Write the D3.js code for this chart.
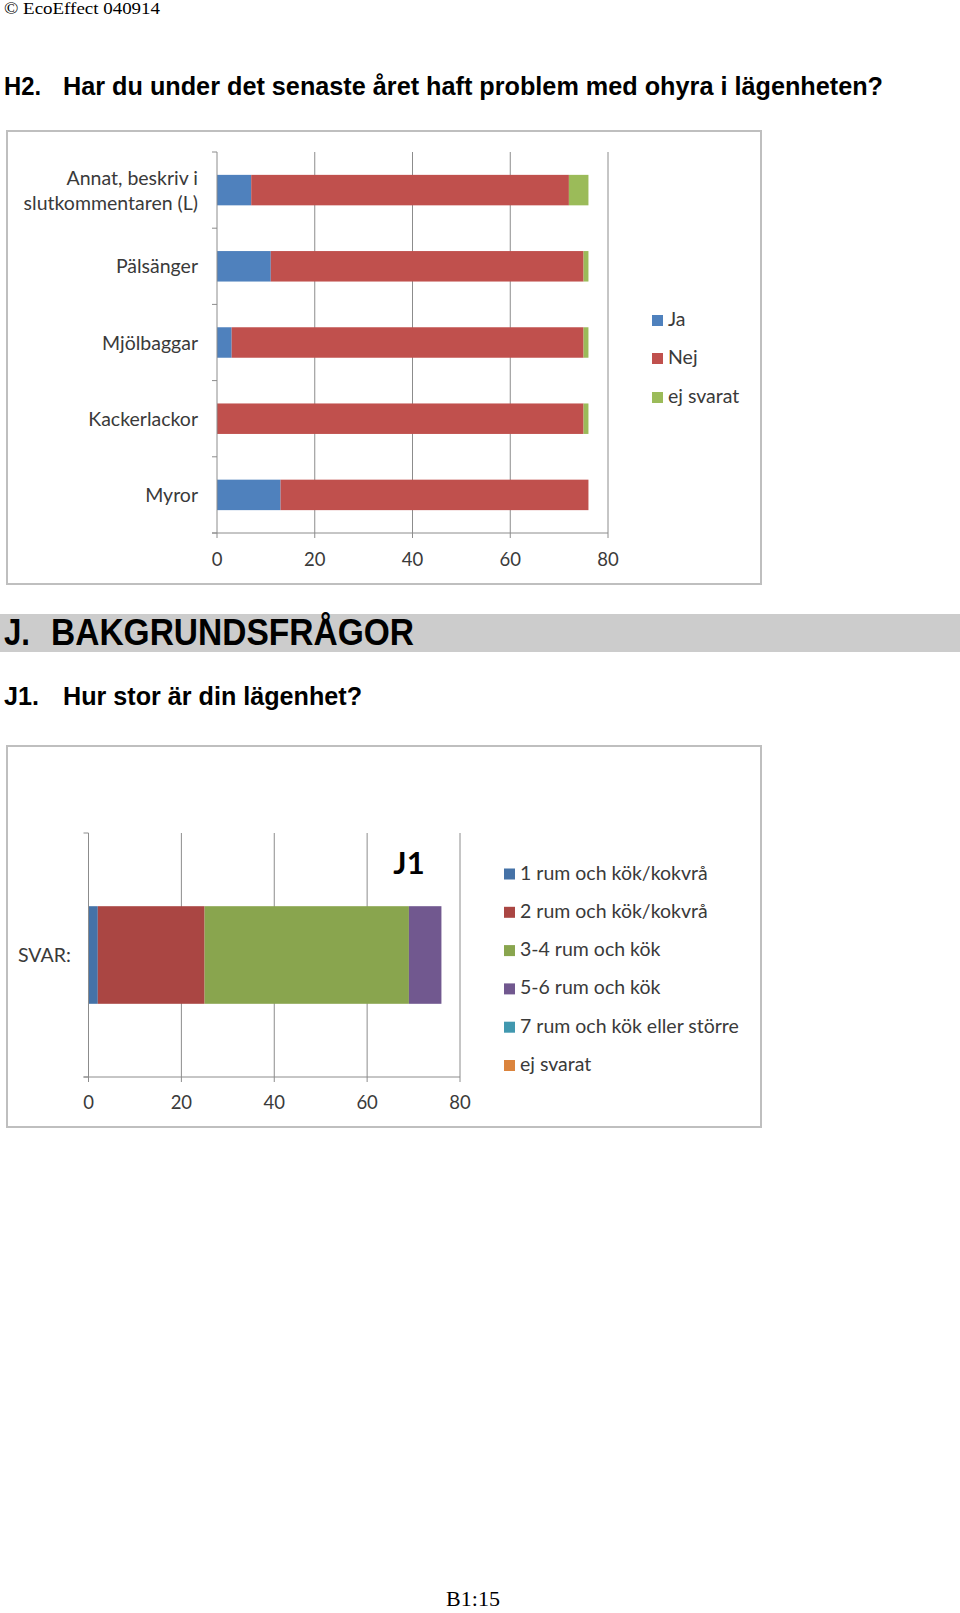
<!DOCTYPE html>
<html><head><meta charset="utf-8">
<script src="https://cdn.jsdelivr.net/npm/d3@7"></script>
<style>
html,body{margin:0;padding:0;background:#fff;}
svg{display:block;}
</style></head>
<body>
<script>
// ---------- DATA ----------
const h2Categories = ["Annat, beskriv i|slutkommentaren (L)", "Pälsänger", "Mjölbaggar", "Kackerlackor", "Myror"];
const h2Series = ["Ja", "Nej", "ej svarat"];
const h2Ja  = [7, 11, 3, 0, 13];
const h2Nej = [65, 64, 72, 75, 63];
const h2Ej  = [4, 1, 1, 1, 0];
const h2Colors = ["#4f81bd", "#c0504d", "#9bbb59"];

const j1Categories = ["SVAR:"];
const j1Series = ["1 rum och kök/kokvrå", "2 rum och kök/kokvrå", "3-4 rum och kök", "5-6 rum och kök", "7 rum och kök eller större", "ej svarat"];
const j1Values = [2, 23, 44, 7, 0, 0];
const j1Colors = ["#4572a7", "#aa4643", "#89a54e", "#71588f", "#4198af", "#db843d"];

const xTicks = [0, 20, 40, 60, 80];

// ---------- PAGE ----------
const W = 960, H = 1613;
const svg = d3.select("body").append("svg").attr("width", W).attr("height", H);
svg.append("rect").attr("width", W).attr("height", H).attr("fill", "#fff");

const chartFont = "Lato, 'Open Sans', sans-serif";
const labelSize = 19.5;
const gridColor = "#8c8c8c";
const textColor = "#3a3a3a";

function fitText(sel, len) { sel.attr("textLength", len).attr("lengthAdjust", "spacingAndGlyphs"); }

// Header
svg.append("text").attr("x", 4).attr("y", 14).attr("font-family", "'Liberation Serif', serif")
  .attr("font-size", 17).text("© EcoEffect 040914").call(fitText, 156);

svg.append("text").attr("x", 4).attr("y", 95).attr("font-family", "'Liberation Sans', Arial, sans-serif")
  .attr("font-weight", "bold").attr("font-size", 25).text("H2.").call(fitText, 37);
svg.append("text").attr("x", 63).attr("y", 95).attr("font-family", "'Liberation Sans', Arial, sans-serif")
  .attr("font-weight", "bold").attr("font-size", 25)
  .text("Har du under det senaste året haft problem med ohyra i lägenheten?").call(fitText, 820);

// Gray section band
svg.append("rect").attr("x", 0).attr("y", 614).attr("width", 960).attr("height", 38).attr("fill", "#cccccc");
svg.append("text").attr("x", 4).attr("y", 645).attr("font-family", "'Liberation Sans', Arial, sans-serif")
  .attr("font-weight", "bold").attr("font-size", 36).text("J.").call(fitText, 26);
svg.append("text").attr("x", 51).attr("y", 645).attr("font-family", "'Liberation Sans', Arial, sans-serif")
  .attr("font-weight", "bold").attr("font-size", 36).text("BAKGRUNDSFRÅGOR").call(fitText, 363);

svg.append("text").attr("x", 4).attr("y", 705).attr("font-family", "'Liberation Sans', Arial, sans-serif")
  .attr("font-weight", "bold").attr("font-size", 25).text("J1.").call(fitText, 35);
svg.append("text").attr("x", 63).attr("y", 705).attr("font-family", "'Liberation Sans', Arial, sans-serif")
  .attr("font-weight", "bold").attr("font-size", 25).text("Hur stor är din lägenhet?").call(fitText, 299);

// Footer
svg.append("text").attr("x", 473).attr("y", 1606).attr("text-anchor", "middle")
  .attr("font-family", "'Liberation Serif', serif").attr("font-size", 22).text("B1:15");

// ---------- CHART 1 ----------
(function () {
  const g = svg.append("g");
  g.append("rect").attr("x", 7).attr("y", 131).attr("width", 754).attr("height", 453)
    .attr("fill", "#fff").attr("stroke", "#bfbfbf").attr("stroke-width", 2);

  const x = d3.scaleLinear().domain([0, 80]).range([217, 608]);
  const y = d3.scaleBand().domain(h2Categories).range([152, 533]).paddingInner(0.6).paddingOuter(0.3);
  const top = 152, bottom = 533;

  g.selectAll(".grid").data(xTicks.slice(1)).join("line")
    .attr("x1", d => x(d)).attr("x2", d => x(d)).attr("y1", top).attr("y2", bottom + 5)
    .attr("stroke", gridColor).attr("stroke-width", 1);

  const rows = h2Categories.map((c, i) => ({ cat: c, Ja: h2Ja[i], Nej: h2Nej[i], "ej svarat": h2Ej[i] }));
  const stack = d3.stack().keys(h2Series)(rows);
  stack.forEach((s, si) => {
    g.selectAll(".b" + si).data(s).join("rect")
      .attr("x", d => x(d[0])).attr("width", d => x(d[1]) - x(d[0]))
      .attr("y", d => y(d.data.cat)).attr("height", y.bandwidth())
      .attr("fill", h2Colors[si]);
  });

  const step = y.step();
  const bounds = d3.range(h2Categories.length + 1).map(i => top + i * step);
  g.append("line").attr("x1", x(0)).attr("x2", x(0)).attr("y1", top).attr("y2", bottom).attr("stroke", gridColor);
  g.selectAll(".yt").data(bounds).join("line")
    .attr("x1", x(0) - 5).attr("x2", x(0)).attr("y1", d => d).attr("y2", d => d).attr("stroke", gridColor);
  g.append("line").attr("x1", x(0) - 5).attr("x2", x(80)).attr("y1", bottom).attr("y2", bottom).attr("stroke", gridColor);
  g.append("line").attr("x1", x(0)).attr("x2", x(0)).attr("y1", bottom).attr("y2", bottom + 5).attr("stroke", gridColor);

  g.selectAll(".xl").data(xTicks).join("text")
    .attr("x", d => x(d)).attr("y", 566).attr("text-anchor", "middle")
    .attr("font-family", chartFont).attr("font-size", 18.5).attr("fill", textColor).text(d => d);

  h2Categories.forEach(c => {
    const lines = c.split("|");
    const cy = y(c) + y.bandwidth() / 2;
    lines.forEach((ln, li) => {
      g.append("text").attr("x", 198).attr("y", cy + (li - (lines.length - 1) / 2) * 25 + 7)
        .attr("text-anchor", "end").attr("font-family", chartFont).attr("font-size", labelSize)
        .attr("fill", textColor).text(ln);
    });
  });

  const ly = [320, 358, 397];
  h2Series.forEach((s, i) => {
    g.append("rect").attr("x", 652).attr("y", ly[i] - 5).attr("width", 11).attr("height", 11).attr("fill", h2Colors[i]);
    g.append("text").attr("x", 668).attr("y", ly[i] + 6).attr("font-family", chartFont).attr("font-size", labelSize)
      .attr("fill", textColor).text(s);
  });
})();

// ---------- CHART 2 ----------
(function () {
  const g = svg.append("g");
  g.append("rect").attr("x", 7).attr("y", 746).attr("width", 754).attr("height", 381)
    .attr("fill", "#fff").attr("stroke", "#bfbfbf").attr("stroke-width", 2);

  const x = d3.scaleLinear().domain([0, 80]).range([88.5, 460]);
  const y = d3.scaleBand().domain(j1Categories).range([833, 1077]).paddingInner(0.6).paddingOuter(0.3);
  const top = 833, bottom = 1077;

  g.selectAll(".grid").data(xTicks.slice(1)).join("line")
    .attr("x1", d => x(d)).attr("x2", d => x(d)).attr("y1", top).attr("y2", bottom + 5)
    .attr("stroke", gridColor).attr("stroke-width", 1);

  const row = { cat: j1Categories[0] };
  j1Series.forEach((s, i) => row[s] = j1Values[i]);
  const stack = d3.stack().keys(j1Series)([row]);
  stack.forEach((s, si) => {
    g.selectAll(".b" + si).data(s).join("rect")
      .attr("x", d => x(d[0])).attr("width", d => x(d[1]) - x(d[0]))
      .attr("y", d => y(d.data.cat)).attr("height", y.bandwidth())
      .attr("fill", j1Colors[si]);
  });

  g.append("line").attr("x1", x(0)).attr("x2", x(0)).attr("y1", top).attr("y2", bottom).attr("stroke", gridColor);
  [top, bottom].forEach(b => g.append("line").attr("x1", x(0) - 5).attr("x2", x(0)).attr("y1", b).attr("y2", b).attr("stroke", gridColor));
  g.append("line").attr("x1", x(0) - 5).attr("x2", x(80)).attr("y1", bottom).attr("y2", bottom).attr("stroke", gridColor);
  g.append("line").attr("x1", x(0)).attr("x2", x(0)).attr("y1", bottom).attr("y2", bottom + 5).attr("stroke", gridColor);

  g.selectAll(".xl").data(xTicks).join("text")
    .attr("x", d => x(d)).attr("y", 1109).attr("text-anchor", "middle")
    .attr("font-family", chartFont).attr("font-size", 18.5).attr("fill", textColor).text(d => d);

  g.append("text").attr("x", 18).attr("y", y(j1Categories[0]) + y.bandwidth() / 2 + 7)
    .attr("font-family", chartFont).attr("font-size", labelSize).attr("fill", textColor).text(j1Categories[0]);

  g.append("text").attr("x", 409).attr("y", 874).attr("text-anchor", "middle")
    .attr("font-family", chartFont).attr("font-weight", "bold").attr("font-size", 31).attr("fill", "#000").text("J1");

  j1Series.forEach((s, i) => {
    const cy = 873.5 + i * 38.3;
    g.append("rect").attr("x", 504).attr("y", cy - 5).attr("width", 11).attr("height", 11).attr("fill", j1Colors[i]);
    g.append("text").attr("x", 520).attr("y", cy + 6).attr("font-family", chartFont).attr("font-size", labelSize)
      .attr("fill", textColor).text(s);
  });
})();
</script>
</body></html>
